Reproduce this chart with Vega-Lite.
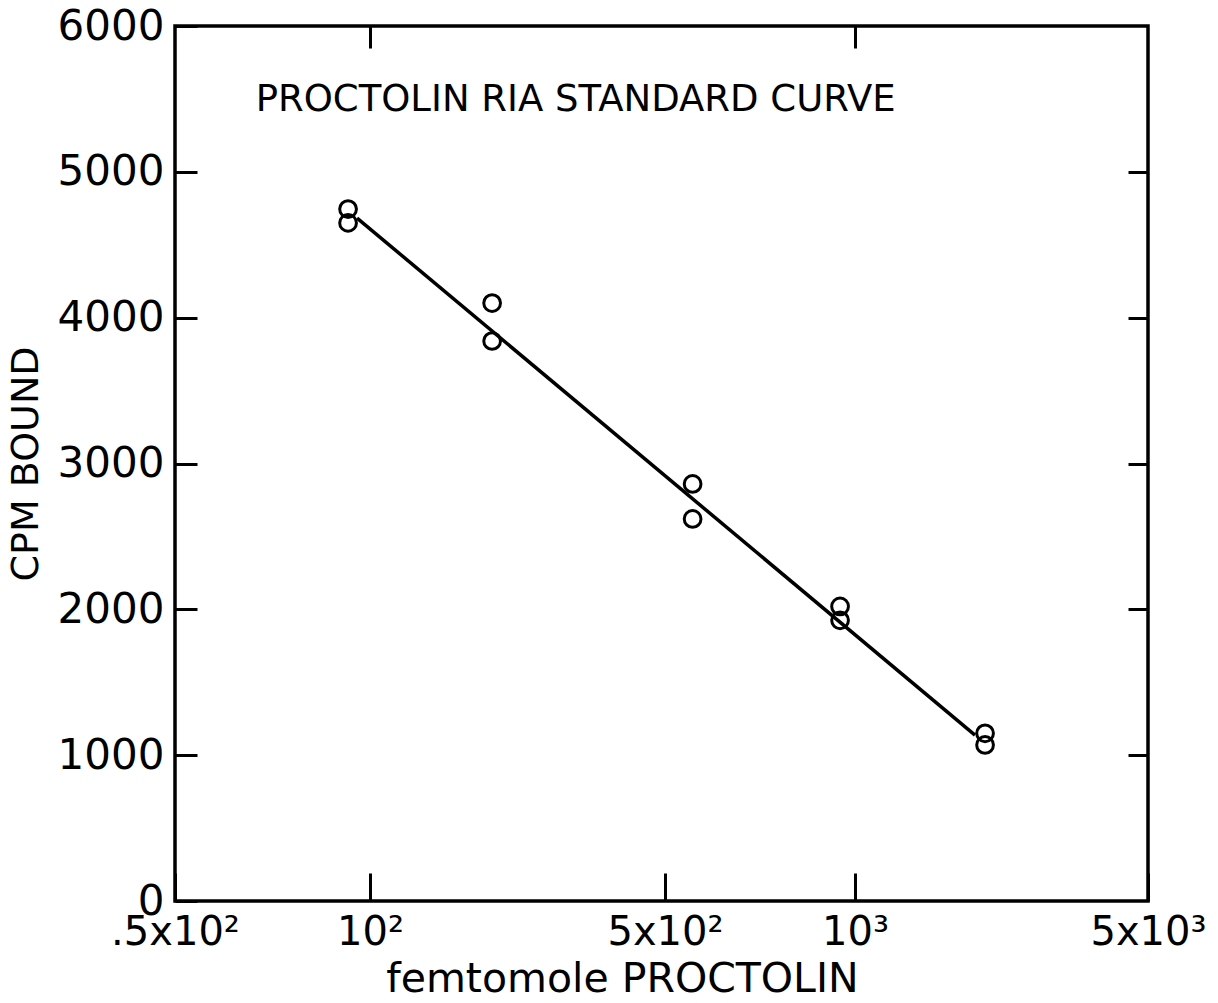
{
  "$schema": "https://vega.github.io/schema/vega-lite/v6.json",
  "width": 973,
  "height": 875,
  "autosize": {"type": "none"},
  "padding": {"left": 175, "top": 26, "right": 70, "bottom": 102},
  "background": "white",
  "config": {
    "view": {"stroke": "black", "strokeWidth": 3.5},
    "font": "DejaVu Sans",
    "axis": {
      "domain": false,
      "grid": false,
      "tickColor": "black",
      "tickWidth": 3,
      "labelColor": "black",
      "titleColor": "black",
      "labelFont": "DejaVu Sans",
      "titleFont": "DejaVu Sans",
      "titleFontWeight": "normal"
    }
  },
  "datasets": {
    "points": [
      {"fmol": 92.5, "cpm": 4745},
      {"fmol": 92.5, "cpm": 4650},
      {"fmol": 194.7, "cpm": 4100},
      {"fmol": 194.7, "cpm": 3840},
      {"fmol": 553, "cpm": 2860},
      {"fmol": 553, "cpm": 2620},
      {"fmol": 947, "cpm": 2020},
      {"fmol": 947, "cpm": 1925},
      {"fmol": 2043, "cpm": 1150},
      {"fmol": 2043, "cpm": 1070}
    ],
    "fit": [
      {"fmol": 95.5, "cpm": 4683},
      {"fmol": 1933, "cpm": 1138}
    ],
    "note": [
      {"fmol": 66.6, "cpm": 5493, "label": "PROCTOLIN RIA STANDARD CURVE"}
    ]
  },
  "resolve": {"axis": {"x": "independent", "y": "independent"}},
  "layer": [
    {
      "data": {"name": "fit"},
      "mark": {"type": "line", "color": "black", "strokeWidth": 3.5},
      "encoding": {
        "x": {
          "field": "fmol",
          "type": "quantitative",
          "scale": {"type": "log", "domain": [50, 100, 500, 1000, 5000], "range": [0, 195, 490, 680, 973], "nice": false, "zero": false},
          "axis": {
            "orient": "bottom",
            "values": [50, 100, 500, 1000, 5000],
            "labelExpr": "datum.value == 50 ? '.5x10²' : datum.value == 100 ? '10²' : datum.value == 500 ? '5x10²' : datum.value == 1000 ? '10³' : '5x10³'",
            "labelFlush": false,
            "labelOverlap": false,
            "labelFontSize": 40,
            "tickSize": -28,
            "labelPadding": 39,
            "title": "femtomole PROCTOLIN",
            "titleFontSize": 41,
            "titlePadding": 7,
            "titleX": 447
          }
        },
        "y": {
          "field": "cpm",
          "type": "quantitative",
          "scale": {"domain": [0, 6000], "nice": false, "zero": true},
          "axis": {
            "orient": "left",
            "values": [0, 1000, 2000, 3000, 4000, 5000, 6000],
            "format": "d",
            "labelFontSize": 42,
            "labelBaseline": "middle",
            "tickSize": -22,
            "labelPadding": 33,
            "title": "CPM BOUND",
            "titleFontSize": 38,
            "titlePadding": 12
          }
        }
      }
    },
    {
      "data": {"name": "points"},
      "mark": {"type": "point", "shape": "circle", "filled": false, "color": "black", "size": 280, "strokeWidth": 3, "opacity": 1},
      "encoding": {
        "x": {
          "field": "fmol",
          "type": "quantitative",
          "scale": {"type": "log", "domain": [50, 100, 500, 1000, 5000], "range": [0, 195, 490, 680, 973], "nice": false, "zero": false},
          "axis": {"orient": "top", "values": [100, 1000], "labels": false, "title": null, "tickSize": -22}
        },
        "y": {
          "field": "cpm",
          "type": "quantitative",
          "scale": {"domain": [0, 6000], "nice": false, "zero": true},
          "axis": {"orient": "right", "values": [1000, 2000, 3000, 4000, 5000], "labels": false, "title": null, "tickSize": -20}
        }
      }
    },
    {
      "data": {"name": "note"},
      "mark": {"type": "text", "align": "left", "baseline": "middle", "fontSize": 37, "color": "black", "font": "DejaVu Sans"},
      "encoding": {
        "x": {"field": "fmol", "type": "quantitative", "axis": null},
        "y": {"field": "cpm", "type": "quantitative", "axis": null},
        "text": {"field": "label"}
      }
    }
  ]
}
